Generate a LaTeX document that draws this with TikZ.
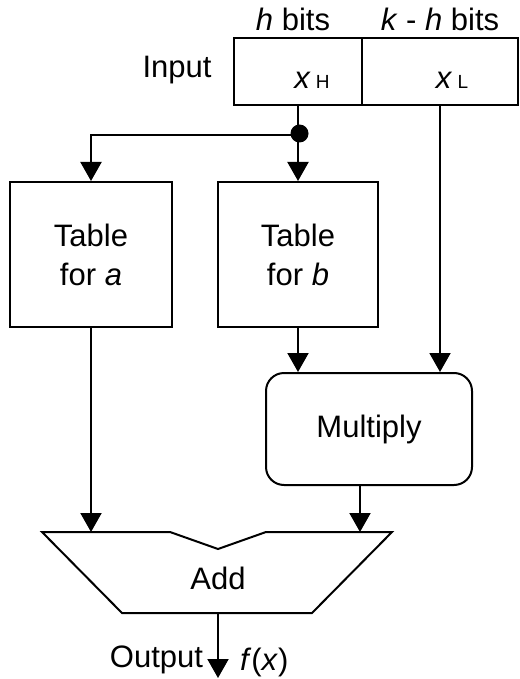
\documentclass[tikz,border=0pt]{standalone}
\usepackage{fontspec}
\setmainfont{Liberation Sans}
\usetikzlibrary{arrows.meta}
\begin{document}
\begin{tikzpicture}[x=1pt,y=-1pt,
  line width=2pt,
  every node/.style={font=\fontsize{31}{39}\selectfont, inner sep=0pt},
  arr/.style={-{Triangle[length=19pt,width=21pt]}},
  subfont/.style={font=\fontsize{19}{21}\selectfont}
]
\useasboundingbox (0,0) rectangle (519,679);
% input register
\node[draw, minimum width=128pt, minimum height=67pt] (xH) at (298,71.5) {};
\node[draw, minimum width=156pt, minimum height=67pt] (xL) at (440,71.5) {};
\node (lxH) at (312,80) {\textit{x}\,{\fontsize{19}{21}\selectfont H}};
\node (lxL) at (452,80) {\textit{x}\,{\fontsize{19}{21}\selectfont L}};
\node (hb) at (293,19) {\textit{h} bits};
\node (khb) at (440,19) {\textit{k} - \textit{h} bits};
\node (inp) at (177,70) {Input};
% tables
\node[draw, minimum width=162pt, minimum height=145pt, align=center] (ta) at (91,254.5) {Table\\for \textit{a}};
\node[draw, minimum width=160pt, minimum height=145pt, align=center] (tb) at (298,254.5) {Table\\for \textit{b}};
% multiply
\node[draw, rounded corners=18pt, minimum width=206pt, minimum height=112pt] (mul) at (369,429) {Multiply};
% add
\coordinate (aTL) at (42,532);
\coordinate (aTR) at (392,532);
\coordinate (aBR) at (312,613);
\coordinate (aBL) at (122,613);
\coordinate (nL) at (170,532);
\coordinate (nR) at (266,532);
\coordinate (nB) at (218,549);
\draw[line join=miter] (aTL) -- (nL) -- (nB) -- (nR) -- (aTR) -- (aBR) -- (aBL) -- cycle;
\node (add) at (218,578) {Add};
\coordinate (addout) at (218,613);
\coordinate (outtip) at (218,678);
% split point
\coordinate (split) at (298,135);
\coordinate (lcorner) at (91,135);
\fill ([xshift=1.5pt,yshift=1.5pt]split) circle (9pt);
% connectors
\draw (xH.south) -- (split);
\draw[arr] (split) -- (tb.north);
\draw[arr] (split) -- (lcorner) -- (ta.north);
\draw[arr] (xL.south) -- (mul.north -| xL.south);
\draw[arr] (tb.south) -- (mul.north -| tb.south);
\coordinate (aIn1) at (91,532);
\coordinate (aIn2) at (360,532);
\draw[arr] (ta.south) -- (aIn1);
\draw[arr] (mul.south -| aIn2) -- (aIn2);
\draw[arr] (addout) -- (outtip);
\node[anchor=east] (outl) at (204,660) {Output};
\node[anchor=west] (fx) at (239,662) {\textit{f}(\textit{x})};
\end{tikzpicture}
\end{document}
